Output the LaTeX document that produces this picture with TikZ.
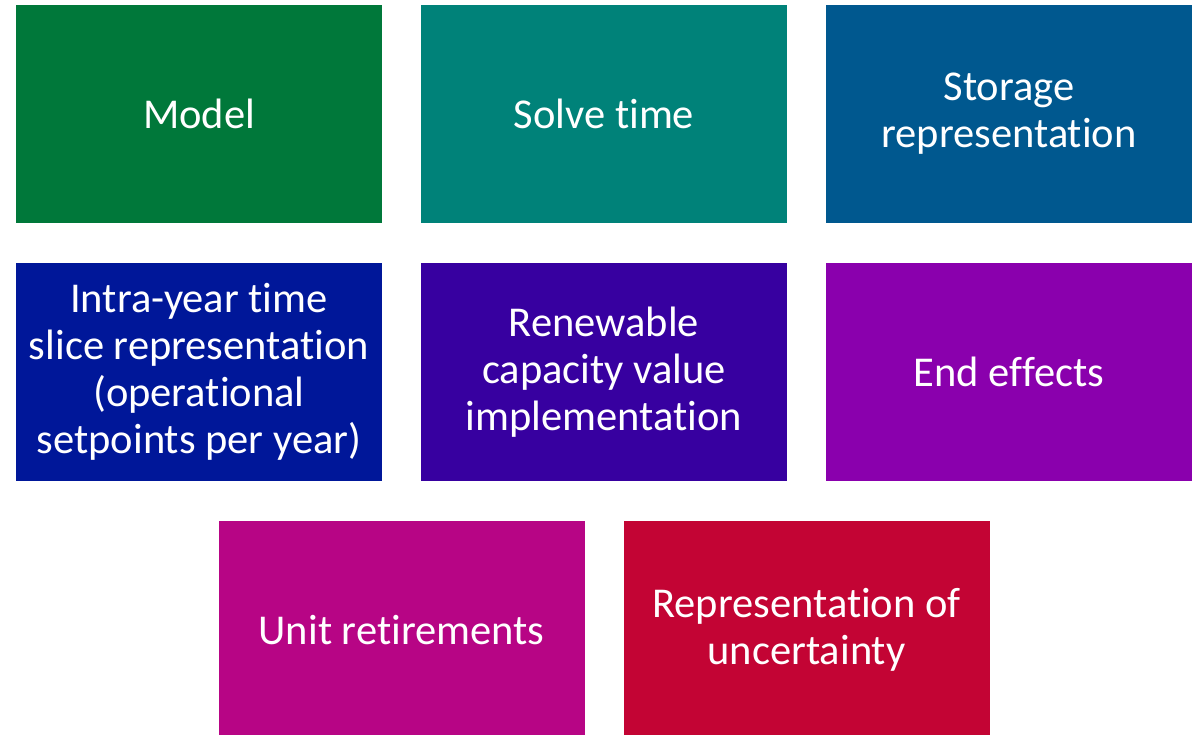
\documentclass[tikz,border=0pt]{standalone}
\usepackage{fontspec}
\setmainfont[Ligatures={NoCommon}]{Carlito}
\usetikzlibrary{positioning,calc}
\definecolor{modelcolor}{RGB}{0,120,58}
\definecolor{solvecolor}{RGB}{0,130,121}
\definecolor{storagecolor}{RGB}{0,88,143}
\definecolor{slicecolor}{RGB}{0,23,153}
\definecolor{renewcolor}{RGB}{55,0,160}
\definecolor{endcolor}{RGB}{138,0,173}
\definecolor{retirecolor}{RGB}{183,5,133}
\definecolor{uncertcolor}{RGB}{195,4,52}

\begin{document}
\begin{tikzpicture}[
    node distance=40pt and 39pt,
    tile/.style={rectangle, minimum width=366pt, minimum height=218pt, inner sep=0pt, outer sep=0pt,
        text=white, align=center, font=\fontsize{42.5}{47}\selectfont}
]
\useasboundingbox (0,0) rectangle (1196pt,-735pt);

% Top row
\node[tile, fill=modelcolor, anchor=north west] (model) at (16pt,-5pt) {Model};
\node[tile, fill=solvecolor, right=of model] (solve) {Solve time};
\node[tile, fill=storagecolor, right=of solve] (storage) {Storage\\representation};

% Middle row
\node[tile, fill=slicecolor, below=of model] (slice) {Intra-year time\\slice representation\\(operational\\setpoints per year)};
\node[tile, fill=renewcolor, below=of solve] (renew) {Renewable\\capacity value\\implementation};
\node[tile, fill=endcolor, below=of storage] (endeff) {End effects};

% Bottom row, centred under the gaps
\node[tile, fill=retirecolor, anchor=north] (retire) at ($(slice.south)!0.5!(renew.south)+(0,-40pt)$) {Unit retirements};
\node[tile, fill=uncertcolor, right=of retire] (uncert) {Representation of\\uncertainty};

\end{tikzpicture}
\end{document}
